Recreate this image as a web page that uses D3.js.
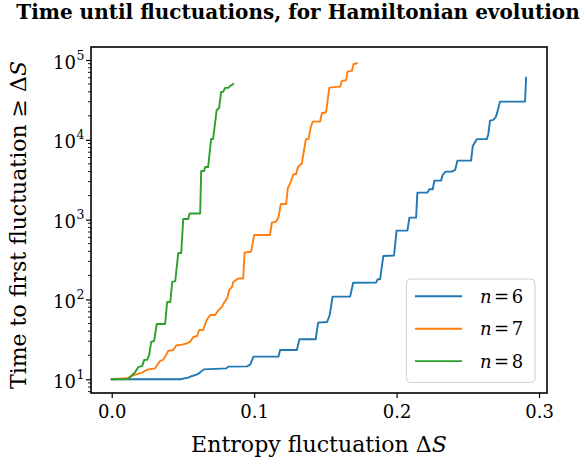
<!DOCTYPE html>
<html><head><meta charset="utf-8">
<script src="https://cdn.jsdelivr.net/npm/d3@7"></script>
<style>body{margin:0;background:#fff}</style>
</head><body><svg id="c" width="587" height="463"></svg>
<script>
// ---- data ----
const seriesNames = ["6", "7", "8"];
const colors = ["#1f77b4", "#ff7f0e", "#2ca02c"];

const n6DS = [0,0.0481,0.0537,0.0565,0.06,0.0621,0.0646,0.0804,0.0818,0.0951,0.0972,0.0995,0.1171,0.1182,0.13,0.1318,0.1432,0.1449,0.1512,0.153,0.1551,0.1674,0.1695,0.1856,0.1867,0.1884,0.1907,0.1982,0.2,0.2076,0.209,0.2137,0.2146,0.2216,0.223,0.2254,0.2265,0.2312,0.2324,0.2345,0.2387,0.2411,0.2427,0.2523,0.2535,0.2563,0.2633,0.2644,0.2656,0.2679,0.2696,0.271,0.2726,0.2902,0.2909];
const n6T = [10,10,10.5,11.0,11.5,12.2,13.3,13.7,14.4,14.5,15.3,19.2,19.3,23.3,23.3,31.7,31.7,51.2,52.2,63.4,108.4,108.4,161.8,162.3,179,179,351,356,728,728,1060,1060,2178,2178,2403,2403,3083,3083,3633,3994,3994,4195,5485,5485,8390,10190,10190,11760,17410,17760,19190,23230,30120,30120,60100];

const n7DS = [0,0.0109,0.0144,0.0179,0.0214,0.0235,0.0256,0.0305,0.0319,0.034,0.0361,0.0382,0.0396,0.0432,0.0453,0.0495,0.053,0.0551,0.0572,0.06,0.0614,0.0642,0.0667,0.0691,0.0726,0.0747,0.0775,0.0789,0.0811,0.0825,0.0846,0.0853,0.0888,0.0923,0.0933,0.0979,0.1,0.1112,0.1124,0.1154,0.1171,0.1187,0.1225,0.1236,0.1258,0.1276,0.1295,0.1307,0.1335,0.1363,0.1381,0.1398,0.1412,0.1463,0.1475,0.1505,0.1528,0.1604,0.1615,0.1646,0.1655,0.1686,0.1697,0.1721];
const n7T = [10,10.3,11.1,11.6,12.1,12.8,13.3,13.7,15.1,17.0,17.5,20.2,22.7,23.3,26.5,27.2,28.3,29.6,33.6,34.9,41.5,41.5,55.3,64,64,72.4,81.3,91.2,103.5,131.5,144.6,165.6,183,183,388,397,643,643,916,944,1072,1573,1573,2474,2992,3704,3704,4536,5092,10190,10190,14640,16890,16890,21540,22170,45100,46400,54700,55800,71600,73000,88500,91200];

const n8DS = [0,0.0116,0.0137,0.0165,0.0186,0.0214,0.0228,0.0249,0.0263,0.0277,0.0298,0.0316,0.0375,0.0389,0.0411,0.0425,0.0446,0.0467,0.0488,0.0502,0.0537,0.0547,0.0621,0.0628,0.0649,0.0656,0.0677,0.0698,0.0712,0.0737,0.0754,0.0768,0.0782,0.0796,0.0818,0.0832,0.0853];
const n8T = [10,10.1,11.0,12.3,14.2,14.7,17.5,17.5,20.2,29.3,30.2,49.3,49.3,93,93,166,170,382,382,1019,1019,1195,1195,4070,4070,4570,4570,10250,10250,23700,25100,39900,39900,44800,44800,47400,50100];

const xTicks = [0.0, 0.1, 0.2, 0.3];
const xTickLabels = ["0.0", "0.1", "0.2", "0.3"];
const yTickExps = [1, 2, 3, 4, 5];

const series = [
  {name: seriesNames[0], xs: n6DS, ys: n6T},
  {name: seriesNames[1], xs: n7DS, ys: n7T},
  {name: seriesNames[2], xs: n8DS, ys: n8T}
];

// ---- layout ----
const svg = d3.select("#c");
const L = 91, R = 547, T = 47, B = 393;
const x = d3.scaleLinear().domain([-0.01455, 0.3056]).range([L, R]);
const y = d3.scaleLog().domain([Math.pow(10, 0.828), Math.pow(10, 5.163)]).range([B, T]);
const serif = "'DejaVu Serif', 'Liberation Serif', serif";

function fit(sel, base, target) {
  const w = sel.node().getComputedTextLength();
  sel.attr("font-size", base * target / w);
}

// title
const title = svg.append("text").attr("x", 298).attr("y", 19)
  .attr("text-anchor", "middle").attr("font-family", serif)
  .attr("font-weight", "bold").attr("font-size", 17)
  .text("Time until fluctuations, for Hamiltonian evolution");
fit(title, 17, 564);

// lines
svg.append("clipPath").attr("id", "clp").append("rect")
  .attr("x", L).attr("y", T).attr("width", R - L).attr("height", B - T);
const line = d3.line().x(d => x(d[0])).y(d => y(d[1]));
series.forEach((s, i) => {
  const pts = s.xs.map((v, k) => [v, s.ys[k]]);
  svg.append("path").datum(pts).attr("d", line)
    .attr("fill", "none").attr("stroke", colors[i])
    .attr("stroke-width", 1.9).attr("stroke-linejoin", "round")
    .attr("stroke-linecap", "square").attr("clip-path", "url(#clp)");
});

// x axis
const xAxis = d3.axisBottom(x).tickValues(xTicks).tickFormat((d, i) => xTickLabels[i])
  .tickSize(5).tickPadding(7);
const gx = svg.append("g").attr("transform", `translate(0,${B})`).call(xAxis);
gx.select(".domain").remove();
gx.selectAll(".tick line").attr("stroke", "#000").attr("stroke-width", 1.2);
gx.selectAll(".tick text").attr("font-family", serif).attr("font-size", 18).attr("fill", "#000");

// y axis major ticks
const majors = yTickExps.map(e => Math.pow(10, e));
const gy = svg.append("g").attr("transform", `translate(${L},0)`)
  .call(d3.axisLeft(y).tickValues(majors).tickSize(5).tickFormat(""));
gy.select(".domain").remove();
gy.selectAll(".tick line").attr("stroke", "#000").attr("stroke-width", 1.2);
// minor ticks
const minors = [];
for (let e = 0; e <= 5; e++) for (let m = 2; m <= 9; m++) {
  const v = m * Math.pow(10, e);
  if (v >= y.domain()[0] && v <= y.domain()[1]) minors.push(v);
}
svg.append("g").selectAll("line").data(minors).join("line")
  .attr("x1", L).attr("x2", L - 3).attr("y1", d => y(d)).attr("y2", d => y(d))
  .attr("stroke", "#000").attr("stroke-width", 0.9);
// y tick labels
yTickExps.forEach(e => {
  svg.append("text").attr("x", 76).attr("y", y(Math.pow(10, e)) + 8.5)
    .attr("text-anchor", "end").attr("font-family", serif).attr("font-size", 18).text("10");
  svg.append("text").attr("x", 76.5).attr("y", y(Math.pow(10, e)) - 0.5)
    .attr("font-family", serif).attr("font-size", 12.5).text(String(e));
});

// spines
svg.append("rect").attr("x", L).attr("y", T).attr("width", R - L).attr("height", B - T)
  .attr("fill", "none").attr("stroke", "#000").attr("stroke-width", 1.6);

// axis labels
const xl = svg.append("text").attr("x", (L + R) / 2).attr("y", 452)
  .attr("text-anchor", "middle").attr("font-family", serif).attr("font-size", 19);
xl.append("tspan").text("Entropy fluctuation \u0394");
xl.append("tspan").attr("font-style", "italic").text("S");
fit(xl, 19, 256);

const yl = svg.append("text").attr("transform", `translate(26,${(T + B) / 2 + 5}) rotate(-90)`)
  .attr("text-anchor", "middle").attr("font-family", serif).attr("font-size", 19);
yl.append("tspan").text("Time to first fluctuation \u2265 \u0394");
yl.append("tspan").attr("font-style", "italic").text("S");
fit(yl, 19, 328);

// legend
const lg = svg.append("g");
lg.append("rect").attr("x", 406.5).attr("y", 279).attr("width", 128.5).attr("height", 103.5)
  .attr("rx", 4).attr("fill", "#fff").attr("fill-opacity", 0.8)
  .attr("stroke", "#d0d0d0").attr("stroke-width", 1);
series.forEach((s, i) => {
  const cy = 296.3 + i * 32.4;
  lg.append("line").attr("x1", 415).attr("x2", 462).attr("y1", cy).attr("y2", cy)
    .attr("stroke", colors[i]).attr("stroke-width", 1.9);
  const t = lg.append("text").attr("x", 480).attr("y", cy + 6.5)
    .attr("font-family", serif).attr("font-size", 18);
  t.append("tspan").attr("font-style", "italic").text("n");
  t.append("tspan").attr("dx", 2.5).text("=");
  t.append("tspan").attr("dx", 2.5).text(s.name);
});
</script>
</body></html>
